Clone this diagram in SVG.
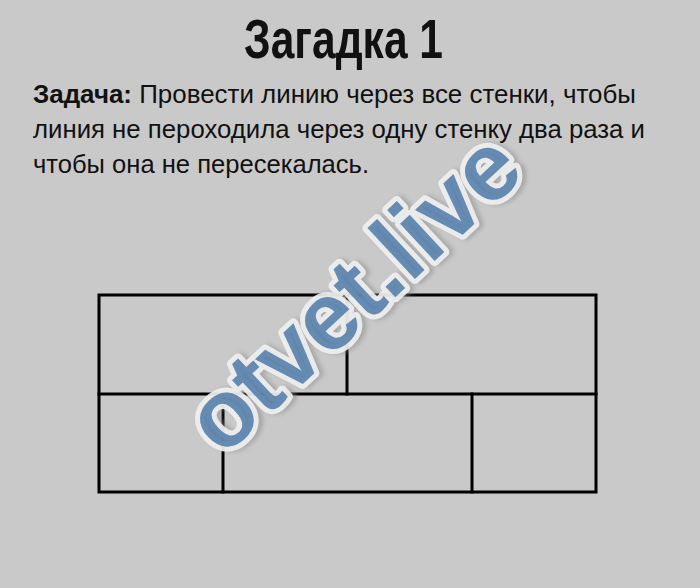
<svg xmlns="http://www.w3.org/2000/svg" width="700" height="588" viewBox="0 0 700 588">
  <defs>
    <style>
      .t { font-family: "Liberation Sans", Arial, sans-serif; fill: #111; }
      .wall { stroke: #000; stroke-width: 3; fill: none; stroke-linecap: square; }
      .wm { font-family: "Liberation Sans", Arial, sans-serif; font-weight: bold; }
    </style>
    <filter id="sh" x="-20%" y="-20%" width="140%" height="140%">
      <feGaussianBlur stdDeviation="2"/>
    </filter>
  </defs>
  <rect x="0" y="0" width="700" height="588" fill="#c9c9c9"/>

  <g id="title">
    <text class="t" x="343.5" y="58" font-size="56" font-weight="bold" text-anchor="middle" textLength="199" lengthAdjust="spacingAndGlyphs">Загадка 1</text>
  </g>

  <g id="task">
    <text class="t" x="33" y="103" font-size="26" textLength="603" lengthAdjust="spacingAndGlyphs"><tspan font-weight="bold">Задача:</tspan> Провести линию через все стенки, чтобы</text>
    <text class="t" x="33" y="138" font-size="26" textLength="612" lengthAdjust="spacingAndGlyphs">линия не пероходила через одну стенку два раза и</text>
    <text class="t" x="33" y="173" font-size="26" textLength="336" lengthAdjust="spacingAndGlyphs">чтобы она не пересекалась.</text>
  </g>

  <g id="walls">
    <rect class="wall" x="99" y="295" width="497" height="197"/>
    <line class="wall" x1="99" y1="394" x2="596" y2="394"/>
    <line class="wall" x1="347" y1="295" x2="347" y2="394"/>
    <line class="wall" x1="223" y1="394" x2="223" y2="492"/>
    <line class="wall" x1="472" y1="394" x2="472" y2="492"/>
  </g>

  <g id="watermark" transform="translate(358,298) rotate(-43)">
    <text class="wm" x="3" y="28" font-size="96" text-anchor="middle" fill="#888" opacity="0.5" stroke="#888" stroke-width="10" stroke-linejoin="round" filter="url(#sh)">otvet.live</text>
    <text class="wm" x="0" y="25" font-size="96" text-anchor="middle" fill="none" stroke="#f2f2f2" stroke-width="10" stroke-linejoin="round" opacity="0.9">otvet.live</text>
    <text class="wm" x="0" y="25" font-size="96" text-anchor="middle" fill="#5b84ae" opacity="0.92">otvet.live</text>
  </g>
</svg>
